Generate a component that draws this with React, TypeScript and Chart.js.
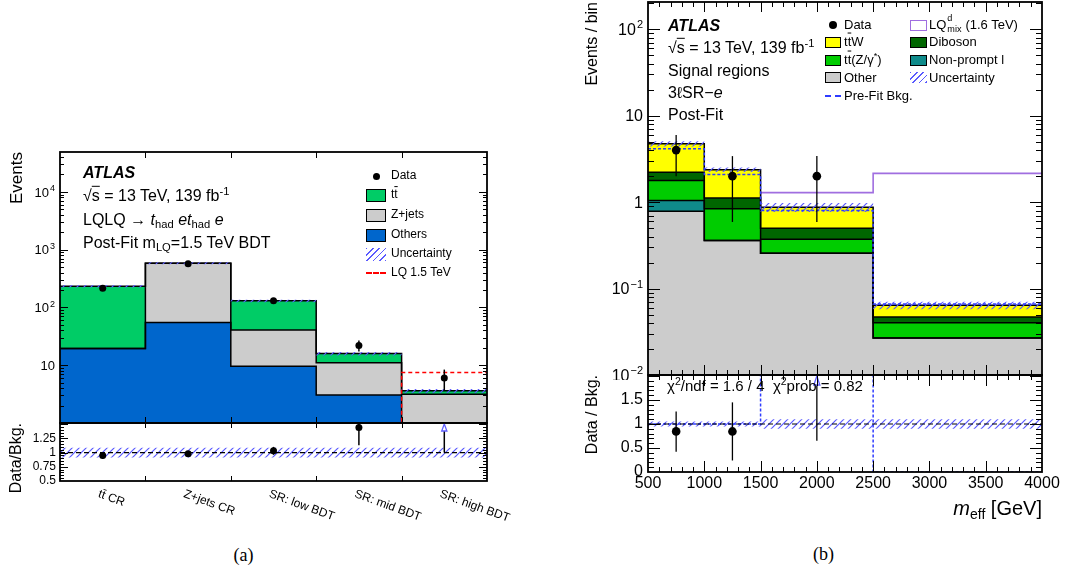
import { useEffect, useRef } from 'react';
import { Chart, registerables } from 'chart.js';

Chart.register(...registerables);

const FONT = '"Liberation Sans", Arial, Helvetica, sans-serif';
Chart.defaults.font.family = FONT;
Chart.defaults.color = '#000';

// ---------------- (a) BDT regions, m_LQ = 1.5 TeV ----------------
const regionsA = ['tt\u0304 CR', 'Z+jets CR', 'SR: low BDT', 'SR: mid BDT', 'SR: high BDT'];
const edgesA = [0, 1, 2, 3, 4, 5];
const othersA = [19.5, 55, 9.6, 3.04, 0.4];
const zjetsA = [0, 526, 31, 7.96, 2.76];
const ttbarA = [213.5, 0, 89.4, 4.9, 0.44];
const bkgUncA = [0.05, 0.04, 0.05, 0.07, 0.08];
const lqSignalA = [0.02, 0.05, 0.3, 0.9, 7.5];
const dataA = [214, 570, 131, 22, 6];
const dataErrA = [14.6, 23.9, 11.4, 4.7, 2.4];
const ratioA = [0.95, 0.98, 1.03, 1.44, 1.67];
const ratioLowA = [0.89, 0.94, 0.96, 1.13, 1.0];
const ratioHighA = [1.01, 1.02, 1.1, 1.75, 2.4];
const ratioUncA = [0.085, 0.085, 0.085, 0.085, 0.085];
const logTicksA = [10, 100, 1000, 10000];

// ---------------- (b) 3l SR-e, m_eff distribution ----------------
const edgesB = [500, 1000, 1500, 2500, 4000];
const otherB = [0.787, 0.36, 0.257, 0.0268];
const nonPromptB = [0.26, 0, 0, 0];
const ttZB = [0.73, 0.48, 0.116, 0.0135];
const dibosonB = [0.44, 0.28, 0.127, 0.0066];
const ttWB = [2.51, 1.25, 0.375, 0.0171];
const bkgUncB = [0.07, 0.06, 0.12, 0.1];
const preFitB = [4.14, 2.09, 0.8, 0.0665];
const lqSignalB = [0.1, 0.3, 1.29, 2.15];
const dataXB = [750, 1250, 2000];
const dataB = [4, 2, 2];
const dataErrB = [2, 1.41, 1.41];
const ratioB = [0.846, 0.845, 2.29];
const ratioLowB = [0.42, 0.24, 0.65];
const ratioHighB = [1.26, 1.45, 3.9];
const ratioUncB = [0.05, 0.05, 0.1, 0.1];
const preFitRatioB = [1.0, 1.0, 2.4, 0];
const logTicksB = [0.01, 0.1, 1, 10, 100];

const COL = {
  ttbar: '#00cc66',
  zjets: '#cccccc',
  others: '#0066cc',
  ttW: '#ffff00',
  ttZ: '#00cc00',
  other: '#cccccc',
  diboson: '#006600',
  nonPrompt: '#0f8b8b',
  lqB: '#a06ee0',
  hatch: '#5a5aff',
  preFit: '#2f3cff',
};

// ---------- helpers ----------
type Pt = { x: number; y: number };

function stepPoints(edges: number[], values: number[]): Pt[] {
  const pts = values.map((v, i) => ({ x: edges[i], y: v }));
  pts.push({ x: edges[edges.length - 1], y: values[values.length - 1] });
  return pts;
}

function stackLevels(layers: number[][]): number[][] {
  const out: number[][] = [];
  let run = layers[0].map(() => 0);
  for (const l of layers) {
    run = run.map((v, i) => v + l[i]);
    out.push(run);
  }
  return out;
}

function seq(a: number, b: number, step: number): number[] {
  const n = Math.round((b - a) / step);
  return Array.from({ length: n + 1 }, (_, i) => +(a + i * step).toFixed(6));
}

function logMinors(lo: number, hi: number): number[] {
  const out: number[] = [];
  for (let d = Math.floor(Math.log10(lo)); d <= Math.ceil(Math.log10(hi)); d++) {
    for (let k = 2; k <= 9; k++) {
      const v = k * Math.pow(10, d);
      if (v > lo && v < hi) out.push(v);
    }
  }
  return out;
}

// diagonal "////" hatching used for the uncertainty bands
function hatchPattern(color: string, size = 7) {
  const c = document.createElement('canvas');
  c.width = size;
  c.height = size;
  const g = c.getContext('2d')!;
  g.strokeStyle = color;
  g.lineWidth = 1.2;
  g.beginPath();
  g.moveTo(0, size);
  g.lineTo(size, 0);
  g.moveTo(-size / 2, size / 2);
  g.lineTo(size / 2, -size / 2);
  g.moveTo(size / 2, size * 1.5);
  g.lineTo(size * 1.5, size / 2);
  g.stroke();
  return g.createPattern(c, 'repeat')!;
}

// ---------- plugins ----------
const rootFrame = {
  id: 'rootFrame',
  afterDraw(chart: any, _a: any, o: any) {
    if (!o || !o.enabled) return;
    const { ctx, chartArea: a, scales } = chart;
    const { x, y } = scales;
    ctx.save();
    ctx.strokeStyle = '#000';
    ctx.lineWidth = 1;
    ctx.beginPath();
    const xt = (vals: number[], len: number) => {
      for (const v of vals) {
        const p = Math.round(x.getPixelForValue(v)) + 0.5;
        if (p <= a.left + 1 || p >= a.right - 1) continue;
        ctx.moveTo(p, a.bottom);
        ctx.lineTo(p, a.bottom - len);
        ctx.moveTo(p, a.top);
        ctx.lineTo(p, a.top + len);
      }
    };
    const yt = (vals: number[], len: number) => {
      for (const v of vals) {
        const p = Math.round(y.getPixelForValue(v)) + 0.5;
        if (p <= a.top + 1 || p >= a.bottom - 1) continue;
        ctx.moveTo(a.left, p);
        ctx.lineTo(a.left + len, p);
        ctx.moveTo(a.right, p);
        ctx.lineTo(a.right - len, p);
      }
    };
    xt(o.xMajor || [], o.xMajorLen || 8);
    xt(o.xMinor || [], o.xMinorLen || 4);
    yt(o.yMajor || [], o.yMajorLen || 8);
    yt(o.yMinor || [], o.yMinorLen || 4);
    ctx.stroke();
    ctx.lineWidth = o.frameWidth || 1.8;
    ctx.strokeRect(a.left, a.top, a.right - a.left, a.bottom - a.top);
    ctx.restore();
  },
};

const logLabels = {
  id: 'logLabels',
  afterDraw(chart: any, _a: any, o: any) {
    if (!o || !o.values) return;
    const { ctx, chartArea: a, scales } = chart;
    const y = scales.y;
    ctx.save();
    ctx.fillStyle = '#000';
    ctx.textAlign = 'left';
    ctx.textBaseline = 'alphabetic';
    for (const v of o.values as number[]) {
      const py = y.getPixelForValue(v);
      const exp = Math.round(Math.log10(v));
      const base = exp === 0 ? '1' : '10';
      const sup = exp === 0 || exp === 1 ? '' : String(exp).replace('-', '\u2212');
      ctx.font = `${o.size}px ${FONT}`;
      const bw = ctx.measureText(base).width;
      ctx.font = `${o.supSize}px ${FONT}`;
      const sw = sup ? ctx.measureText(sup).width + 1 : 0;
      const right = a.left - o.gap;
      const baseY = py + o.size * 0.36;
      ctx.font = `${o.size}px ${FONT}`;
      ctx.fillText(base, right - sw - bw, baseY);
      if (sup) {
        ctx.font = `${o.supSize}px ${FONT}`;
        ctx.fillText(sup, right - sw + 1, baseY - o.size * 0.42);
      }
    }
    ctx.restore();
  },
};

const errorBars = {
  id: 'errorBars',
  beforeDatasetDraw(chart: any, args: any) {
    const ds = chart.data.datasets[args.index];
    if (!ds || !ds.errLow) return;
    const { ctx, chartArea: a, scales } = chart;
    const { x, y } = scales;
    ctx.save();
    ctx.beginPath();
    ctx.rect(a.left, a.top, a.right - a.left, a.bottom - a.top);
    ctx.clip();
    ctx.strokeStyle = '#000';
    ctx.lineWidth = ds.errWidth || 1.5;
    ds.data.forEach((p: Pt, i: number) => {
      if (!p || p.y == null) return;
      const px = x.getPixelForValue(p.x);
      const over = ds.arrowColor && p.y > y.max;
      const triH = ds.arrowH || 9;
      const y1 = y.getPixelForValue(ds.errLow[i]);
      const y2 = over ? a.top + triH : y.getPixelForValue(ds.errHigh[i]);
      ctx.beginPath();
      ctx.moveTo(px, y1);
      ctx.lineTo(px, y2);
      ctx.stroke();
      if (over) {
        const hw = ds.arrowW || 3;
        ctx.save();
        ctx.beginPath();
        ctx.moveTo(px, a.top + 1);
        ctx.lineTo(px - hw, a.top + triH);
        ctx.lineTo(px + hw, a.top + triH);
        ctx.closePath();
        ctx.fillStyle = '#fff';
        ctx.fill();
        ctx.strokeStyle = ds.arrowColor;
        ctx.lineWidth = 1.3;
        ctx.stroke();
        ctx.restore();
      }
    });
    ctx.restore();
  },
};

const slantedLabels = {
  id: 'slantedLabels',
  afterDraw(chart: any, _a: any, o: any) {
    if (!o || !o.labels) return;
    const { ctx, scales } = chart;
    const x = scales.x;
    ctx.save();
    ctx.font = `${o.size}px ${FONT}`;
    ctx.fillStyle = '#000';
    ctx.textAlign = 'left';
    ctx.textBaseline = 'top';
    (o.labels as string[]).forEach((t, i) => {
      const px = x.getPixelForValue(o.positions[i]);
      ctx.save();
      ctx.translate(px + o.dx, o.y);
      ctx.rotate((o.angle * Math.PI) / 180);
      ctx.fillText(t, 0, 0);
      ctx.restore();
    });
    ctx.restore();
  },
};

Chart.register(rootFrame, logLabels, errorBars, slantedLabels);

// ---------- dataset builders ----------
function stepDs(edges: number[], values: number[], extra: any) {
  return {
    type: 'line',
    data: stepPoints(edges, values),
    stepped: true,
    pointRadius: 0,
    borderWidth: 0,
    borderColor: 'rgba(0,0,0,0)',
    fill: false,
    ...extra,
  };
}

function pointsDs(xs: number[], ys: number[], lo: number[], hi: number[], r: number, extra: any) {
  return {
    type: 'line',
    data: xs.map((x, i) => ({ x, y: ys[i] })),
    showLine: false,
    pointRadius: r,
    pointHoverRadius: r,
    pointBackgroundColor: '#000',
    pointBorderWidth: 0,
    errLow: lo,
    errHigh: hi,
    ...extra,
  };
}

function yAxisWidth(w: number) {
  return (s: any) => {
    s.width = w;
    s.paddingTop = 0;
    s.paddingBottom = 0;
  };
}

function baseOptions(padding: any, scales: any, plugins: any) {
  return {
    responsive: false,
    animation: false,
    events: [],
    layout: { padding, autoPadding: false },
    scales,
    plugins: { legend: { display: false }, tooltip: { enabled: false }, ...plugins },
  };
}

// ---------- chart configurations ----------
function mainConfigA(hatch: CanvasPattern): any {
  const lv = stackLevels([othersA, zjetsA, ttbarA]);
  const total = lv[2];
  const centers = regionsA.map((_, i) => i + 0.5);
  const datasets = [
    stepDs(edgesA, lv[0], { fill: 'start', backgroundColor: COL.others, order: 100 }),
    stepDs(edgesA, lv[1], { fill: '-1', backgroundColor: COL.zjets, order: 99 }),
    stepDs(edgesA, lv[2], { fill: '-1', backgroundColor: COL.ttbar, order: 98 }),
    stepDs(edgesA, lv[0], { borderColor: '#000', borderWidth: 1.5, order: 90 }),
    stepDs(edgesA, lv[1], { borderColor: '#000', borderWidth: 1.5, order: 89 }),
    stepDs(edgesA, lv[2], { borderColor: '#000', borderWidth: 1.5, order: 88 }),
    stepDs(edgesA, total.map((t, i) => t * (1 - bkgUncA[i])), { order: 80 }),
    stepDs(edgesA, total.map((t, i) => t * (1 + bkgUncA[i])), { fill: '-1', backgroundColor: hatch, order: 79 }),
    stepDs(edgesA, lqSignalA, { borderColor: '#ff0000', borderWidth: 1.5, borderDash: [4, 3], order: 70 }),
    pointsDs(centers, dataA, dataA.map((d, i) => d - dataErrA[i]), dataA.map((d, i) => d + dataErrA[i]), 3.5, { order: 10 }),
  ];
  return {
    type: 'line',
    data: { datasets },
    options: baseOptions(
      { left: 0, top: 12, right: 13, bottom: 7 },
      {
        x: { type: 'linear', min: 0, max: 5, display: false },
        y: {
          type: 'logarithmic',
          min: 1,
          max: 4.9e4,
          ticks: { display: false },
          grid: { display: false, drawTicks: false },
          border: { display: false },
          title: { display: true, text: 'Events', align: 'end', color: '#000', font: { size: 17 }, padding: { top: 7, bottom: 0 } },
          afterFit: yAxisWidth(60),
        },
      },
      {
        rootFrame: {
          enabled: true,
          xMajor: edgesA,
          xMajorLen: 6,
          yMajor: logTicksA,
          yMajorLen: 8,
          yMinor: logMinors(1, 4.9e4),
          yMinorLen: 4,
          frameWidth: 1.8,
        },
        logLabels: { values: logTicksA, size: 13, supSize: 9, gap: 5 },
      }
    ),
  };
}

function ratioConfigA(hatch: CanvasPattern): any {
  const centers = regionsA.map((_, i) => i + 0.5);
  const yMax = 1.52;
  const datasets = [
    stepDs(edgesA, ratioUncA.map((u) => 1 - u), { order: 50 }),
    stepDs(edgesA, ratioUncA.map((u) => 1 + u), { fill: '-1', backgroundColor: hatch, order: 49 }),
    {
      type: 'line',
      data: [
        { x: edgesA[0], y: 1 },
        { x: edgesA[edgesA.length - 1], y: 1 },
      ],
      borderColor: '#000',
      borderWidth: 1.3,
      borderDash: [5, 3],
      pointRadius: 0,
      order: 40,
    },
    pointsDs(centers, ratioA, ratioLowA, ratioHighA, 3.5, {
      order: 10,
      arrowColor: '#6060ff',
      arrowH: 8,
      arrowW: 2.6,
      pointRadius: (c: any) => (c.raw && c.raw.y > yMax ? 0 : 3.5),
    }),
  ];
  return {
    type: 'line',
    data: { datasets },
    options: baseOptions(
      { left: 0, top: 8, right: 43, bottom: 49 },
      {
        x: { type: 'linear', min: 0, max: 5, display: false },
        y: {
          type: 'linear',
          min: 0.5,
          max: yMax,
          ticks: {
            stepSize: 0.25,
            autoSkip: false,
            padding: 4,
            font: { size: 12 },
            color: '#000',
            callback: (v: any) => (v > 1.4 ? '' : String(+Number(v).toFixed(2))),
          },
          grid: { display: false, drawTicks: false },
          border: { display: false },
          title: { display: true, text: 'Data/Bkg.', align: 'end', color: '#000', font: { size: 16 }, padding: { top: 7, bottom: 0 } },
          afterFit: yAxisWidth(60),
        },
      },
      {
        rootFrame: {
          enabled: true,
          xMajor: edgesA,
          xMajorLen: 5,
          yMajor: seq(0.5, 1.5, 0.25),
          yMajorLen: 8,
          yMinor: seq(0.5, 1.5, 0.05),
          yMinorLen: 4,
          frameWidth: 1.8,
        },
        slantedLabels: { labels: regionsA, positions: centers, size: 12, angle: 20, dx: -2, y: 73 },
      }
    ),
  };
}

function mainConfigB(hatch: CanvasPattern): any {
  const lv = stackLevels([otherB, nonPromptB, ttZB, dibosonB, ttWB]);
  const total = lv[4];
  const fills = [COL.other, COL.nonPrompt, COL.ttZ, COL.diboson, COL.ttW];
  const datasets: any[] = [];
  lv.forEach((l, k) =>
    datasets.push(stepDs(edgesB, l, { fill: k === 0 ? 'start' : '-1', backgroundColor: fills[k], order: 100 - k }))
  );
  lv.forEach((l, k) => datasets.push(stepDs(edgesB, l, { borderColor: '#000', borderWidth: 1.5, order: 90 - k })));
  datasets.push(stepDs(edgesB, total.map((t, i) => t * (1 - bkgUncB[i])), { order: 80 }));
  datasets.push(stepDs(edgesB, total.map((t, i) => t * (1 + bkgUncB[i])), { fill: '-1', backgroundColor: hatch, order: 79 }));
  datasets.push(stepDs(edgesB, preFitB, { borderColor: COL.preFit, borderWidth: 1.5, borderDash: [3, 2], order: 70 }));
  datasets.push(stepDs(edgesB, lqSignalB, { borderColor: COL.lqB, borderWidth: 1.6, order: 200 }));
  datasets.push(
    pointsDs(dataXB, dataB, dataB.map((d, i) => d - dataErrB[i]), dataB.map((d, i) => d + dataErrB[i]), 4.3, {
      order: 10,
      errWidth: 1.3,
    })
  );
  return {
    type: 'line',
    data: { datasets },
    options: baseOptions(
      { left: 0, top: 2, right: 25, bottom: 5 },
      {
        x: { type: 'linear', min: 500, max: 4000, display: false },
        y: {
          type: 'logarithmic',
          min: 0.01,
          max: 207,
          ticks: { display: false },
          grid: { display: false, drawTicks: false },
          border: { display: false },
          title: { display: true, text: 'Events / bin', align: 'end', color: '#000', font: { size: 16 }, padding: { top: 3.4, bottom: 0 } },
          afterFit: yAxisWidth(68),
        },
      },
      {
        rootFrame: {
          enabled: true,
          xMajor: seq(500, 4000, 500),
          xMajorLen: 10,
          xMinor: seq(500, 4000, 100),
          xMinorLen: 5,
          yMajor: logTicksB,
          yMajorLen: 12,
          yMinor: logMinors(0.01, 207),
          yMinorLen: 6,
          frameWidth: 1.8,
        },
        logLabels: { values: logTicksB, size: 16, supSize: 11, gap: 5 },
      }
    ),
  };
}

function ratioConfigB(hatch: CanvasPattern): any {
  const yMax = 2.02;
  const datasets = [
    stepDs(edgesB, ratioUncB.map((u) => 1 - u), { order: 50 }),
    stepDs(edgesB, ratioUncB.map((u) => 1 + u), { fill: '-1', backgroundColor: hatch, order: 49 }),
    stepDs(edgesB, preFitRatioB, { borderColor: COL.preFit, borderWidth: 1.5, borderDash: [3, 2], order: 45 }),
    {
      type: 'line',
      data: [
        { x: edgesB[0], y: 1 },
        { x: edgesB[edgesB.length - 1], y: 1 },
      ],
      borderColor: '#000',
      borderWidth: 1.2,
      borderDash: [5, 3],
      pointRadius: 0,
      order: 40,
    },
    pointsDs(dataXB, ratioB, ratioLowB, ratioHighB, 4.3, {
      order: 10,
      errWidth: 1.3,
      arrowColor: '#6060ff',
      arrowH: 10,
      arrowW: 3,
      pointRadius: (c: any) => (c.raw && c.raw.y > yMax ? 0 : 4.3),
    }),
  ];
  return {
    type: 'line',
    data: { datasets },
    options: baseOptions(
      { left: 0, top: 7, right: 25, bottom: 0 },
      {
        x: {
          type: 'linear',
          min: 500,
          max: 4000,
          ticks: {
            stepSize: 500,
            autoSkip: false,
            maxRotation: 0,
            minRotation: 0,
            padding: 2,
            font: { size: 16 },
            color: '#000',
            callback: (v: any) => String(v),
          },
          grid: { display: false, drawTicks: false },
          border: { display: false },
          afterFit: (s: any) => {
            s.height = 26;
            s.paddingLeft = 0;
            s.paddingRight = 0;
          },
        },
        y: {
          type: 'linear',
          min: 0,
          max: yMax,
          ticks: {
            stepSize: 0.5,
            autoSkip: false,
            padding: 5,
            font: { size: 16 },
            color: '#000',
            callback: (v: any) => (v > 1.9 ? '' : String(+Number(v).toFixed(2))),
          },
          grid: { display: false, drawTicks: false },
          border: { display: false },
          title: { display: true, text: 'Data / Bkg.', align: 'end', color: '#000', font: { size: 16 }, padding: { top: 3, bottom: 0 } },
          afterFit: yAxisWidth(68),
        },
      },
      {
        rootFrame: {
          enabled: true,
          xMajor: seq(500, 4000, 500),
          xMajorLen: 11,
          xMinor: seq(500, 4000, 100),
          xMinorLen: 5,
          yMajor: seq(0, 2, 0.5),
          yMajorLen: 12,
          yMinor: seq(0, 2, 0.1),
          yMinorLen: 6,
          frameWidth: 1.8,
        },
      }
    ),
  };
}

// ---------- text overlay pieces ----------
function Txt({ x, y, size, children, style }: any) {
  return (
    <div
      style={{
        position: 'absolute',
        left: x,
        top: y,
        transform: 'translateY(-50%)',
        fontSize: size,
        fontFamily: FONT,
        lineHeight: 1.15,
        whiteSpace: 'nowrap',
        color: '#000',
        ...style,
      }}
    >
      {children}
    </div>
  );
}

const Sub = ({ children }: any) => (
  <span style={{ fontSize: '0.7em', position: 'relative', top: '0.3em' }}>{children}</span>
);
const Sup = ({ children }: any) => (
  <span style={{ fontSize: '0.7em', position: 'relative', top: '-0.55em' }}>{children}</span>
);
const Bar = ({ children }: any) => <span style={{ textDecoration: 'overline' }}>{children}</span>;

function Box({ x, y, w, h, color, border = '#000' }: any) {
  return (
    <div
      style={{
        position: 'absolute',
        left: x,
        top: y - h / 2,
        width: w,
        height: h,
        boxSizing: 'border-box',
        background: color,
        border: `1.5px solid ${border}`,
      }}
    />
  );
}

function HatchBox({ x, y, w, h }: any) {
  return (
    <div
      style={{
        position: 'absolute',
        left: x,
        top: y - h / 2,
        width: w,
        height: h,
        background: `repeating-linear-gradient(135deg, ${COL.hatch} 0px, ${COL.hatch} 1.2px, transparent 1.2px, transparent 4.5px)`,
      }}
    />
  );
}

function DashLine({ x, y, w, color }: any) {
  return (
    <div style={{ position: 'absolute', left: x, top: y - 1, width: w, height: 0, borderTop: `2px dashed ${color}` }} />
  );
}

function Dot({ cx, cy, r }: any) {
  return (
    <div
      style={{ position: 'absolute', left: cx - r, top: cy - r, width: 2 * r, height: 2 * r, borderRadius: '50%', background: '#000' }}
    />
  );
}

export default function App() {
  const aMain = useRef<HTMLCanvasElement>(null);
  const aRatio = useRef<HTMLCanvasElement>(null);
  const bMain = useRef<HTMLCanvasElement>(null);
  const bRatio = useRef<HTMLCanvasElement>(null);

  useEffect(() => {
    const hatch = hatchPattern(COL.hatch, 7);
    const charts = [
      new Chart(aMain.current!, mainConfigA(hatch)),
      new Chart(aRatio.current!, ratioConfigA(hatch)),
      new Chart(bMain.current!, mainConfigB(hatch)),
      new Chart(bRatio.current!, ratioConfigB(hatch)),
    ];
    return () => charts.forEach((c) => c.destroy());
  }, []);

  const cv = (left: number, top: number) => ({ position: 'absolute' as const, left, top });

  return (
    <div
      style={{
        position: 'absolute',
        left: 0,
        top: 0,
        width: 1067,
        height: 575,
        background: '#fff',
        overflow: 'hidden',
        fontFamily: FONT,
      }}
    >
      <canvas ref={aMain} width={500} height={290} style={cv(0, 140)} />
      <canvas ref={aRatio} width={530} height={115} style={cv(0, 415)} />
      <canvas ref={bMain} width={487} height={380} style={cv(580, 0)} />
      <canvas ref={bRatio} width={487} height={130} style={cv(580, 368)} />

      {/* (a) labels */}
      <Txt x={83} y={173} size={16} style={{ fontWeight: 'bold', fontStyle: 'italic' }}>ATLAS</Txt>
      <Txt x={83} y={196} size={16}>
        √<Bar>s</Bar> = 13 TeV, 139 fb<Sup>-1</Sup>
      </Txt>
      <Txt x={83} y={220} size={16}>
        LQLQ → <i>t</i>
        <Sub>had</Sub> <i>et</i>
        <Sub>had</Sub> <i>e</i>
      </Txt>
      <Txt x={83} y={243} size={16}>
        Post-Fit m<Sub>LQ</Sub>=1.5 TeV BDT
      </Txt>

      {/* (a) legend */}
      <Dot cx={376.7} cy={176} r={3.5} />
      <Txt x={391} y={176} size={12}>Data</Txt>
      <Box x={366} y={195} w={20} h={13} color={COL.ttbar} />
      <Txt x={391} y={195} size={12}>
        t<Bar>t</Bar>
      </Txt>
      <Box x={366} y={215} w={20} h={13} color={COL.zjets} />
      <Txt x={391} y={215} size={12}>Z+jets</Txt>
      <Box x={366} y={235} w={20} h={13} color={COL.others} />
      <Txt x={391} y={235} size={12}>Others</Txt>
      <HatchBox x={366} y={254} w={20} h={13} />
      <Txt x={391} y={254} size={12}>Uncertainty</Txt>
      <DashLine x={366} y={273} w={20} color="#ff0000" />
      <Txt x={391} y={273} size={12}>LQ 1.5 TeV</Txt>

      {/* (b) labels */}
      <Txt x={668} y={26} size={16} style={{ fontWeight: 'bold', fontStyle: 'italic' }}>ATLAS</Txt>
      <Txt x={668} y={48} size={16}>
        √<Bar>s</Bar> = 13 TeV, 139 fb<Sup>-1</Sup>
      </Txt>
      <Txt x={668} y={71} size={16}>Signal regions</Txt>
      <Txt x={668} y={93} size={16}>
        3ℓSR−<i>e</i>
      </Txt>
      <Txt x={668} y={115} size={16}>Post-Fit</Txt>

      {/* (b) legend */}
      <Dot cx={833} cy={25} r={4.2} />
      <Txt x={844} y={25} size={13}>Data</Txt>
      <Box x={825} y={42.3} w={16} h={11} color={COL.ttW} />
      <Txt x={844} y={42.3} size={13}>
        t<Bar>t</Bar>W
      </Txt>
      <Box x={825} y={60} w={16} h={11} color={COL.ttZ} />
      <Txt x={844} y={60} size={13}>
        t<Bar>t</Bar>(Z/γ<Sup>*</Sup>)
      </Txt>
      <Box x={825} y={77.7} w={16} h={11} color={COL.other} />
      <Txt x={844} y={77.7} size={13}>Other</Txt>
      <DashLine x={825} y={96} w={16} color={COL.preFit} />
      <Txt x={844} y={96} size={13}>Pre-Fit Bkg.</Txt>

      <Box x={910} y={25} w={17} h={11} color="#fff" border={COL.lqB} />
      <Txt x={929} y={25} size={13}>
        LQ
        <span style={{ display: 'inline-block', position: 'relative', width: '1.7em', height: '1em', fontSize: '0.7em', verticalAlign: 'baseline' }}>
          <span style={{ position: 'absolute', left: 1, top: '-0.75em' }}>d</span>
          <span style={{ position: 'absolute', left: 1, top: '0.45em' }}>mix</span>
        </span>
        {' '}(1.6 TeV)
      </Txt>
      <Box x={910} y={42.3} w={17} h={11} color={COL.diboson} />
      <Txt x={929} y={42.3} size={13}>Diboson</Txt>
      <Box x={910} y={60} w={17} h={11} color={COL.nonPrompt} />
      <Txt x={929} y={60} size={13}>Non-prompt l</Txt>
      <HatchBox x={910} y={77.7} w={17} h={11} />
      <Txt x={929} y={77.7} size={13}>Uncertainty</Txt>

      <Txt x={667} y={386} size={15}>
        χ<Sup>2</Sup>/ndf = 1.6 / 4{'\u00a0\u00a0'}χ<Sup>2</Sup>prob = 0.82
      </Txt>

      <div
        style={{
          position: 'absolute',
          right: 25,
          top: 508,
          transform: 'translateY(-50%)',
          fontSize: 20,
          fontFamily: FONT,
          whiteSpace: 'nowrap',
          lineHeight: 1.15,
        }}
      >
        <i>m</i>
        <Sub>eff</Sub> [GeV]
      </div>

      <div style={{ position: 'absolute', left: 243.5, top: 555, transform: 'translate(-50%, -50%)', fontFamily: '"Liberation Serif", "Times New Roman", serif', fontSize: 18 }}>
        (a)
      </div>
      <div style={{ position: 'absolute', left: 823.5, top: 554, transform: 'translate(-50%, -50%)', fontFamily: '"Liberation Serif", "Times New Roman", serif', fontSize: 18 }}>
        (b)
      </div>
    </div>
  );
}
